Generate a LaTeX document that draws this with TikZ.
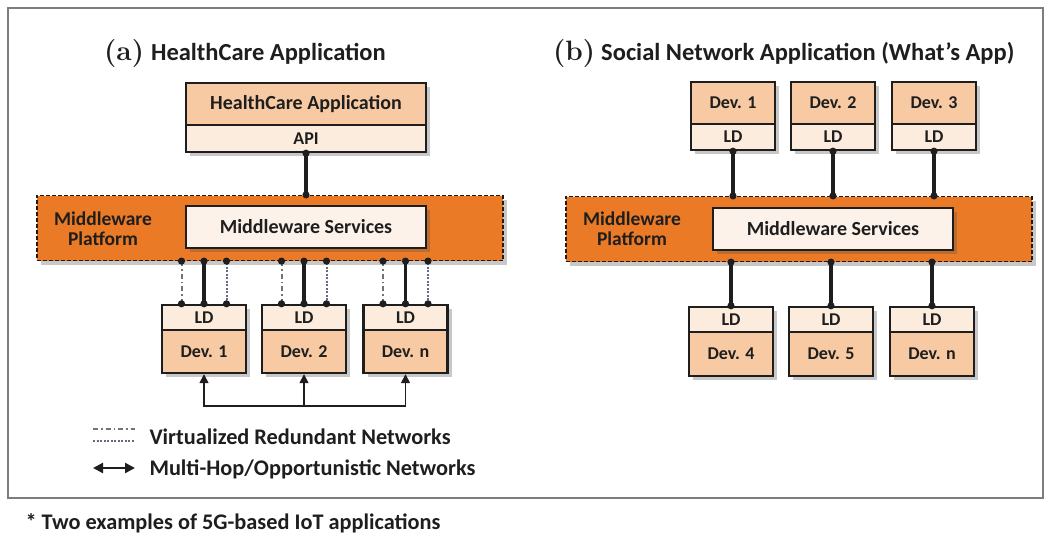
\documentclass[tikz,border=0pt]{standalone}
\usepackage{fontspec}
\newfontfamily\calfont{Carlito}
\usetikzlibrary{shadows,arrows.meta,calc}
\definecolor{peach}{RGB}{247,202,164}
\definecolor{lightpeach}{RGB}{252,236,222}
\definecolor{cream}{RGB}{253,242,233}
\definecolor{mwor}{RGB}{234,122,38}
\definecolor{framegray}{RGB}{125,125,125}
\definecolor{ink}{RGB}{30,30,30}
\definecolor{dashgray}{RGB}{115,115,115}
\definecolor{dashblue}{RGB}{100,106,130}
\tikzset{
  shad/.style={drop shadow={shadow xshift=4pt,shadow yshift=-4pt,opacity=0.3,fill=black!70}},
  box/.style={draw=ink,line width=2.4pt,inner sep=0pt,text=ink,
    font=\calfont\bfseries\fontsize{20}{21}\selectfont,shad},
  devbox/.style={box,fill=peach,minimum width=84pt,font=\calfont\bfseries\fontsize{18}{19}\selectfont},
  ldbox/.style={box,fill=lightpeach,minimum width=84pt,font=\calfont\bfseries\fontsize{18}{19}\selectfont},
  platform/.style={draw=black!80!brown,dash pattern=on 4pt off 2pt,line width=1.2pt,fill=mwor,
    minimum width=466pt,minimum height=65pt,inner sep=0pt,shad},
  mwsvc/.style={box,fill=cream,minimum width=240pt,minimum height=42pt},
  platlabel/.style={align=center,text=ink,font=\calfont\bfseries\fontsize{19.5}{20}\selectfont},
  link/.style={line width=3.6pt,draw=ink},
  redA/.style={line width=2pt,draw=dashgray,dash pattern=on 5pt off 3pt on 1.5pt off 3pt},
  redB/.style={line width=2pt,draw=dashblue,dash pattern=on 2pt off 1.5pt},
  hop/.style={line width=1.6pt,draw=ink},
  tip/.style={line width=1.6pt,draw=ink},
  legtext/.style={anchor=west,text=ink,font=\calfont\bfseries\fontsize{22.3}{23}\selectfont},
  dot/.style={fill=ink}
}
\begin{document}
\begin{tikzpicture}[x=1pt,y=-1pt]
\useasboundingbox (0,0) rectangle (1050,535);
\fill[white] (0,0) rectangle (1050,535);
% frame
\draw[framegray,line width=2.2pt] (8,8) rectangle (1043,498);

% titles
\node[anchor=base west,inner sep=0pt,text=ink] (titA) at (104,61)
  {{\bfseries\fontsize{28}{28}\selectfont (a)}\hspace{7pt}{\calfont\bfseries\fontsize{24.5}{25}\selectfont HealthCare Application}};
\node[anchor=base west,inner sep=0pt,text=ink] (titB) at (553,61)
  {{\bfseries\fontsize{28}{28}\selectfont (b)}\hspace{6pt}{\calfont\bfseries\fontsize{24.5}{25}\selectfont Social Network Application (What’s App)}};

% ===== (a) =====
\node[box,fill=peach,minimum width=240pt,minimum height=42pt] (app) at (306,104) {HealthCare Application};
\node[ldbox,minimum width=240pt,minimum height=27pt] (api) at (306,138.5) {API};

\node[platform] (platA) at (270,228) {};
\node[platlabel] (plA) at (103,229) {Middleware\\Platform};
\node[mwsvc] (mwA) at (306,227) {Middleware Services};

\draw[link] (api.south) -- (api.south |- platA.north);
\fill[dot] (api.south) circle (3.6pt);
\fill[dot] (api.south |- platA.north) circle (3.6pt);

\foreach \n/\x/\lab in {1/204/Dev. 1,2/304/Dev. 2,3/405.5/Dev. n}{
  \node[ldbox,minimum height=25pt] (ldA\n) at (\x,317.5) {LD};
  \node[devbox,minimum height=43pt] (devA\n) at (\x,351.5) {\lab};
}
\foreach \n in {1,2,3}{
  \draw[redA] ([xshift=-22.5pt]ldA\n.north) -- ([xshift=-22.5pt]ldA\n.north |- platA.south);
  \draw[redB] ([xshift=22.5pt]ldA\n.north) -- ([xshift=22.5pt]ldA\n.north |- platA.south);
  \draw[link] (ldA\n.north) -- (ldA\n.north |- platA.south);
  \foreach \s in {-22.5,0,22.5}{
    \fill[dot] ([xshift=\s pt]ldA\n.north) circle (3.6pt);
    \fill[dot] ([xshift=\s pt]ldA\n.north |- platA.south) circle (3.6pt);
  }
}
% multi-hop bus
\coordinate (bus) at (304,406);
\draw[hop,{Triangle[length=9pt,width=9pt]}-{Triangle[length=9pt,width=9pt]}] (devA1.south) |- (bus) -| (devA3.south);
\draw[hop,-{Triangle[length=9pt,width=9pt]}] (bus) -- (devA2.south);

% legend
\coordinate (l1a) at (93,429); \coordinate (l1b) at (135,429);
\coordinate (l2a) at (93,441); \coordinate (l2b) at (135,441);
\coordinate (l3a) at (93,468); \coordinate (l3b) at (135,468);
\draw[redA] (l1a) -- (l1b);
\draw[redB] (l2a) -- (l2b);
\draw[line width=2.2pt,draw=ink,{Triangle[length=10pt,width=10pt]}-{Triangle[length=10pt,width=10pt]}] (l3a) -- (l3b);
\node[legtext] (lt1) at (146,437) {Virtualized Redundant Networks};
\node[legtext] (lt2) at (146,469) {Multi-Hop/Opportunistic Networks};

% footer
\node[legtext] (foot) at (22,523) {* Two examples of 5G-based IoT applications};

% ===== (b) =====
\node[platform] (platB) at (799,229) {};
\node[platlabel] (plB) at (632,229) {Middleware\\Platform};
\node[mwsvc] (mwB) at (833,229) {Middleware Services};

\foreach \n/\x in {1/733,2/833,3/934}{
  \node[devbox,minimum height=42pt] (devB\n) at (\x,103) {Dev. \n};
  \node[ldbox,minimum height=26pt] (ldB\n) at (\x,137) {LD};
  \draw[link] (ldB\n.south) -- (ldB\n.south |- platB.north);
  \fill[dot] (ldB\n.south) circle (3.6pt);
  \fill[dot] (ldB\n.south |- platB.north) circle (3.6pt);
}
\foreach \n/\x/\lab in {4/731/Dev. 4,5/831/Dev. 5,6/932/Dev. n}{
  \node[ldbox,minimum height=25pt] (ldB\n) at (\x,319.5) {LD};
  \node[devbox,minimum height=44pt] (devB\n) at (\x,354) {\lab};
  \draw[link] (ldB\n.north) -- (ldB\n.north |- platB.south);
  \fill[dot] (ldB\n.north) circle (3.6pt);
  \fill[dot] (ldB\n.north |- platB.south) circle (3.6pt);
}
\end{tikzpicture}
\end{document}
